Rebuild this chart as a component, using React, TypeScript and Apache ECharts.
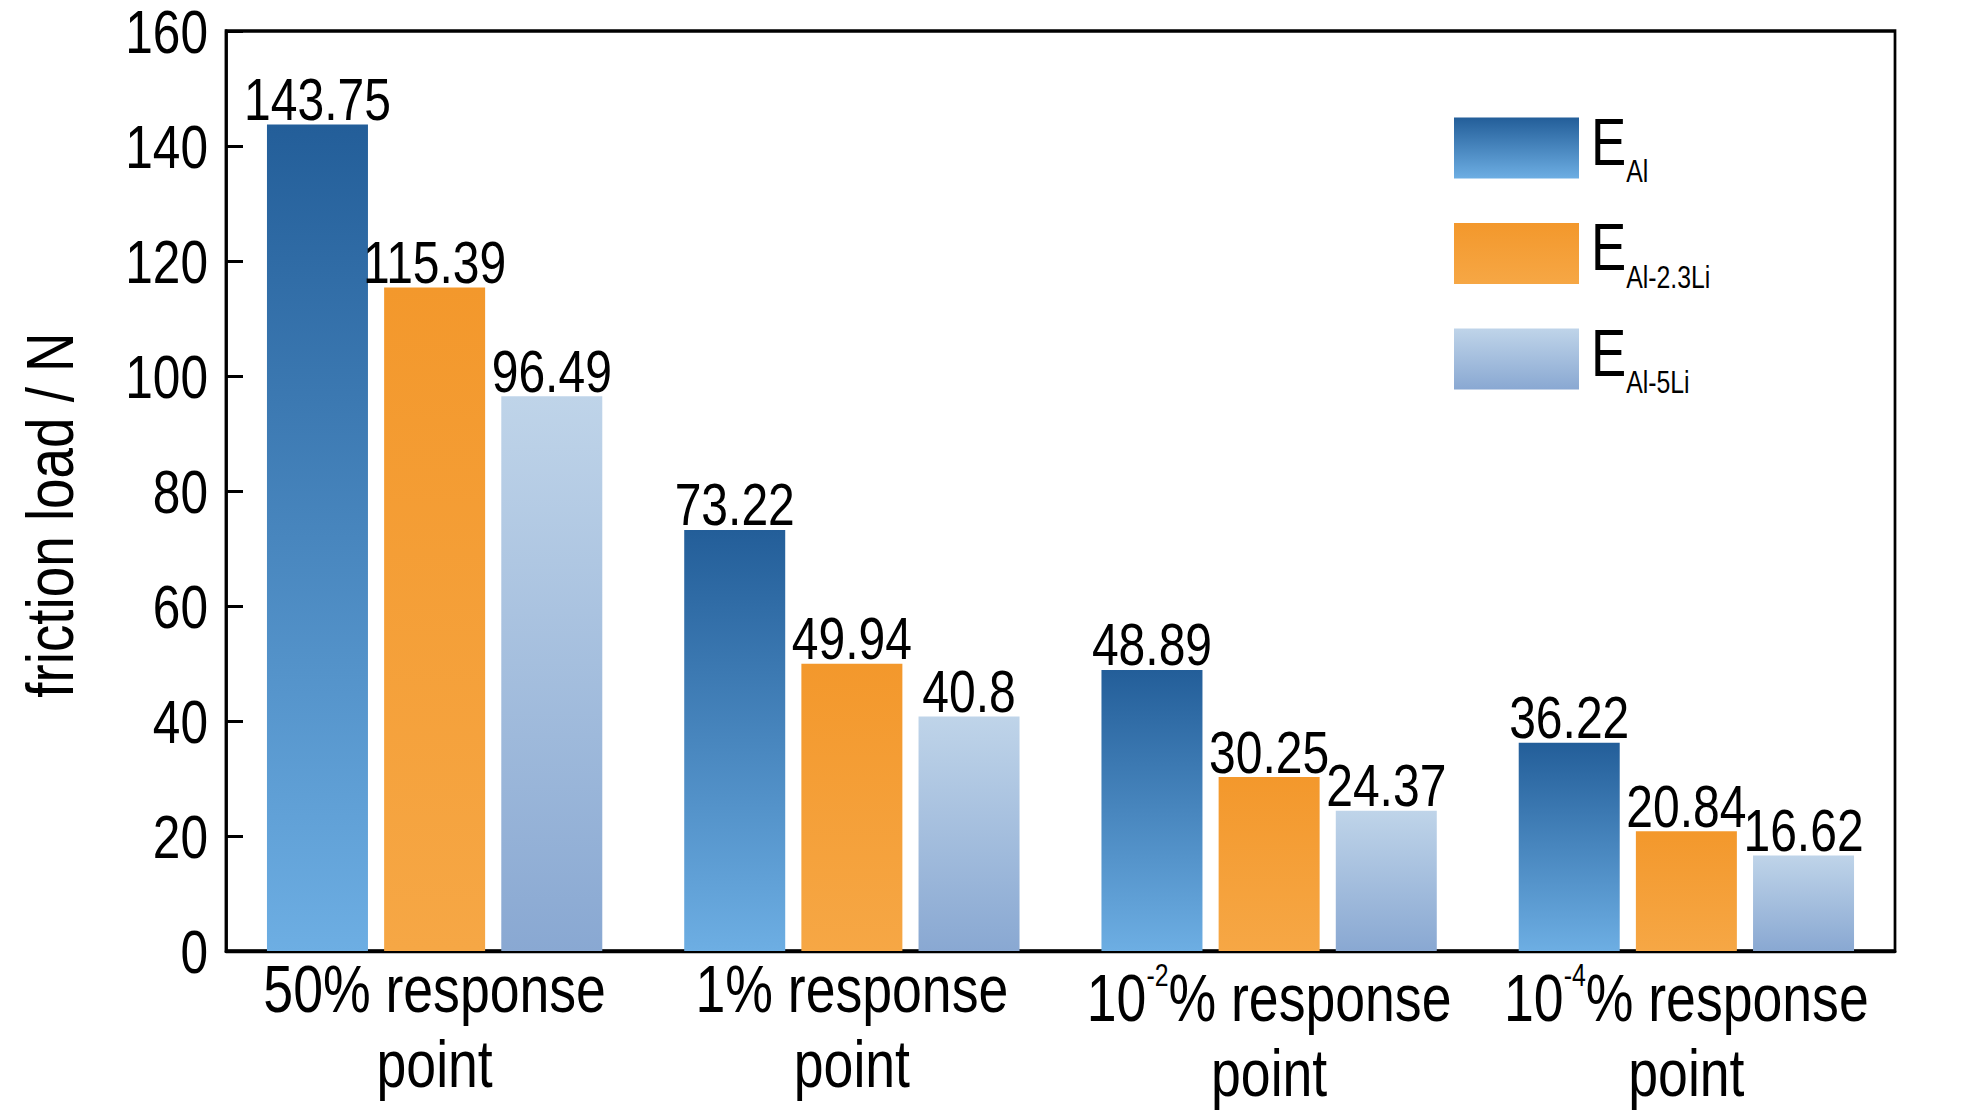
import React, { useEffect, useRef } from "react";
import * as echarts from "echarts";

const categories = [
  "50% response point",
  "1% response point",
  "10-2% response point",
  "10-4% response point",
];
const seriesNames = ["EAl", "EAl-2.3Li", "EAl-5Li"];
const valuesAl = [143.75, 73.22, 48.89, 36.22];
const valuesAl23Li = [115.39, 49.94, 30.25, 20.84];
const valuesAl5Li = [96.49, 40.8, 24.37, 16.62];
const yMin = 0;
const yMax = 160;
const yInterval = 20;

const FONT = '"Liberation Sans", Arial, sans-serif';
// horizontal condensation factor (the reference uses a narrow typeface)
const S = 0.8;
const W = 1984;
const H = 1111;
const WIDE = W / S;

function grad(top: string, bottom: string) {
  return new echarts.graphic.LinearGradient(0, 0, 0, 1, [
    { offset: 0, color: top },
    { offset: 1, color: bottom },
  ]);
}

export default function App() {
  const ref = useRef<HTMLDivElement>(null);
  useEffect(() => {
    document.body.style.margin = "0";
    if (!ref.current) return;
    const chart = echarts.init(ref.current, undefined, { renderer: "svg" });
    const colors = [
      grad("#235E99", "#6DAEE3"),
      grad("#F3982C", "#F6A745"),
      grad("#BFD4E9", "#89A8D2"),
    ];
    const dataSets = [valuesAl, valuesAl23Li, valuesAl5Li];
    const option: any = {
      animation: false,
      backgroundColor: "#ffffff",
      textStyle: { fontFamily: FONT },
      grid: {
        left: 226 / S,
        right: 89 / S,
        top: 31,
        bottom: 160,
        show: true,
        borderColor: "#000",
        borderWidth: 3.4,
        containLabel: false,
      },
      legend: {
        orient: "vertical",
        left: 1454 / S,
        top: 109,
        padding: 0,
        itemWidth: 125 / S,
        itemHeight: 61,
        itemGap: 27,
        icon: "rect",
        data: seriesNames,
        formatter: (name: string) => `{e|E}{s|${name.slice(1)}}`,
        textStyle: {
          fontFamily: FONT,
          padding: [0, 0, 12, 10],
          rich: {
            e: { fontSize: 66, lineHeight: 61, color: "#000", fontFamily: FONT },
            s: {
              fontSize: 31,
              lineHeight: 31,
              verticalAlign: "bottom",
              color: "#000",
              fontFamily: FONT,
              padding: [0, 0, -15, 0],
            },
          },
        },
      },
      xAxis: {
        type: "category",
        data: categories.map((c) =>
          /^10-/.test(c) ? { value: c, textStyle: { padding: [9, 0, 0, 0] } } : c
        ),
        axisLine: { show: true, lineStyle: { color: "#000", width: 3.4 } },
        axisTick: {
          show: true,
          inside: true,
          alignWithLabel: true,
          length: 18,
          lineStyle: { color: "#000", width: 3 / S },
        },
        axisLabel: {
          interval: 0,
          margin: 0,
          color: "#000",
          fontFamily: FONT,
          formatter: (value: string) => {
            const m = value.match(/^10(-\d)% response point$/);
            if (m) {
              return `{m|10}{sup|${m[1]}}{m|% response}\n{m|point}`;
            }
            return `{m|${value.replace(" point", "")}}\n{m|point}`;
          },
          rich: {
            m: { fontSize: 67, lineHeight: 75, color: "#000", fontFamily: FONT },
            sup: {
              fontSize: 31,
              lineHeight: 31,
              verticalAlign: "top",
              color: "#000",
              fontFamily: FONT,
            },
          },
        },
        splitLine: { show: false },
      },
      yAxis: {
        type: "value",
        min: yMin,
        max: yMax,
        interval: yInterval,
        axisLine: { show: true, lineStyle: { color: "#000", width: 3 / S } },
        axisTick: {
          show: true,
          inside: true,
          length: 17 / S,
          lineStyle: { color: "#000", width: 3 },
        },
        axisLabel: {
          margin: 18 / S,
          fontSize: 62,
          lineHeight: 56,
          color: "#000",
          fontFamily: FONT,
        },
        splitLine: { show: false },
      },
      graphic: [
        {
          type: "text",
          x: 50 / S,
          y: 515,
          rotation: Math.PI / 2,
          scaleX: 0.83,
          scaleY: 1 / S,
          style: {
            text: "friction load / N",
            fontSize: 66,
            fontFamily: FONT,
            fill: "#000",
            textAlign: "center",
            textVerticalAlign: "middle",
          },
        },
      ],
      series: seriesNames.map((name, i) => ({
        name,
        type: "bar",
        data: dataSets[i],
        barWidth: 101 / S,
        barGap: "16%",
        itemStyle: { color: colors[i] },
        label: {
          show: true,
          position: "top",
          distance: -5,
          fontSize: 60,
          color: "#000",
          fontFamily: FONT,
        },
      })),
    };
    chart.setOption(option);
    return () => chart.dispose();
  }, []);
  return (
    <div style={{ width: W, height: H, overflow: "hidden", position: "relative" }}>
      <div
        ref={ref}
        style={{
          width: WIDE,
          height: H,
          transform: `scaleX(${S})`,
          transformOrigin: "0 0",
        }}
      />
    </div>
  );
}
